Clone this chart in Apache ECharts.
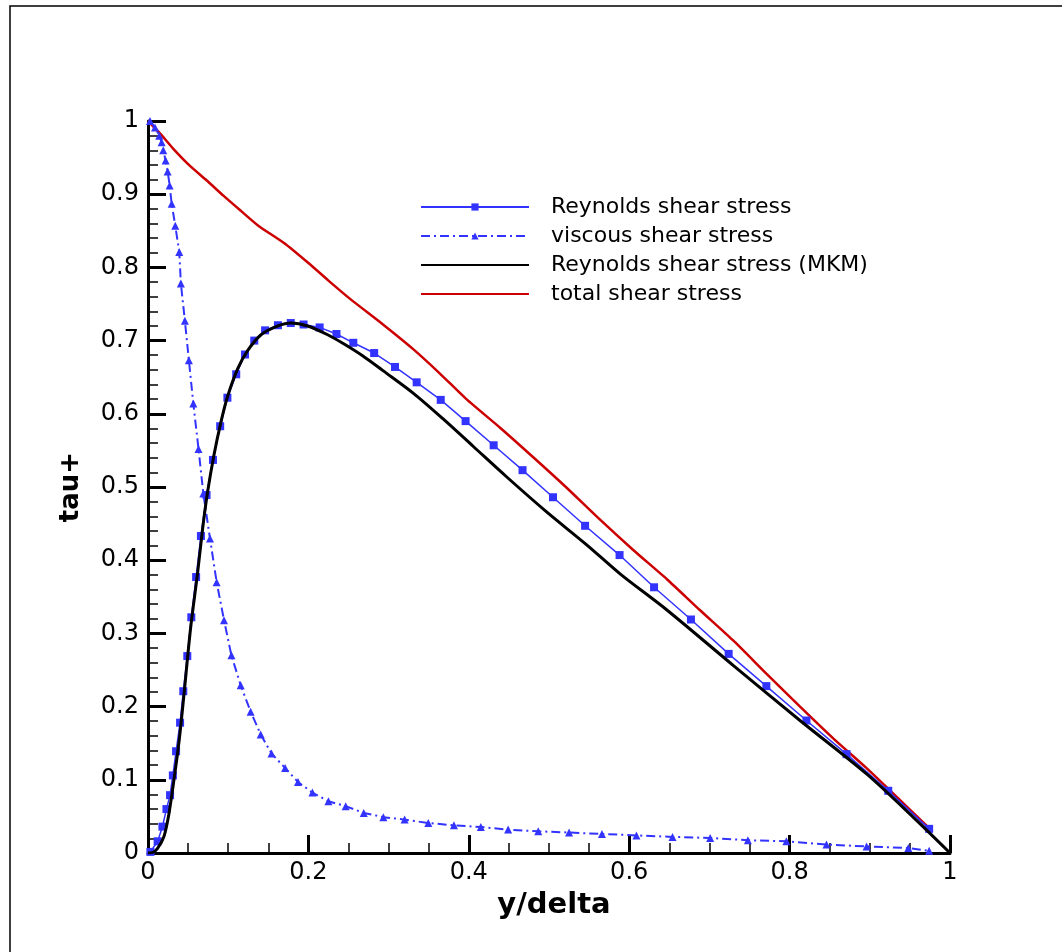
<!DOCTYPE html>
<html>
<head>
<meta charset="utf-8">
<script src="https://cdn.jsdelivr.net/npm/echarts@6/dist/echarts.min.js"></script>
<style>
  html, body { margin: 0; padding: 0; background: #fff; }
  #main { width: 1062px; height: 952px; }
</style>
</head>
<body>
<div id="main"></div>
<script>
  // Reynolds shear stress (square markers)
  var reyX = [0.003, 0.012, 0.018, 0.023, 0.0275, 0.031, 0.035, 0.040, 0.044, 0.049, 0.054, 0.060, 0.066, 0.073, 0.081,
              0.090, 0.099, 0.110, 0.121, 0.1325, 0.146, 0.162, 0.178, 0.194, 0.214, 0.235, 0.256, 0.282, 0.308, 0.335,
              0.365, 0.396, 0.431, 0.467, 0.505, 0.545, 0.588, 0.631, 0.677, 0.724, 0.771, 0.821, 0.871, 0.923, 0.974];
  var reyY = [0.0015, 0.016, 0.036, 0.060, 0.079, 0.106, 0.139, 0.178, 0.221, 0.269, 0.322, 0.377, 0.433, 0.489, 0.537,
              0.583, 0.622, 0.654, 0.681, 0.700, 0.714, 0.721, 0.724, 0.722, 0.718, 0.709, 0.697, 0.683, 0.664, 0.643,
              0.619, 0.590, 0.557, 0.523, 0.486, 0.447, 0.407, 0.363, 0.319, 0.272, 0.228, 0.181, 0.135, 0.085, 0.033];

  // viscous shear stress (triangle markers)
  var visX = [0.0025, 0.0087, 0.014, 0.017, 0.019, 0.022, 0.0245, 0.027, 0.0295, 0.034, 0.039, 0.041, 0.046, 0.051, 0.0565,
              0.063, 0.069, 0.0773, 0.0856, 0.0948, 0.104, 0.1156, 0.128, 0.1405, 0.154, 0.171, 0.187, 0.205, 0.225,
              0.2465, 0.269, 0.2935, 0.320, 0.3495, 0.3815, 0.415, 0.449, 0.4866, 0.525, 0.566, 0.609, 0.654, 0.701,
              0.748, 0.796, 0.846, 0.896, 0.948, 0.974];
  var visY = [1.0, 0.991, 0.980, 0.971, 0.960, 0.946, 0.931, 0.912, 0.887, 0.857, 0.821, 0.778, 0.727, 0.673, 0.614,
              0.552, 0.491, 0.4295, 0.370, 0.318, 0.270, 0.229, 0.193, 0.162, 0.136, 0.116, 0.097, 0.0825, 0.0706,
              0.064, 0.0547, 0.049, 0.0456, 0.041, 0.0378, 0.0355, 0.032, 0.0296, 0.028, 0.026, 0.024, 0.022, 0.0205,
              0.0174, 0.016, 0.0115, 0.009, 0.0068, 0.003];

  // Reynolds shear stress (MKM)
  var mkmX = [0, 0.0054, 0.0117, 0.020, 0.026, 0.0325, 0.039, 0.045, 0.053, 0.062, 0.068, 0.074, 0.0825, 0.091, 0.099,
              0.112, 0.124, 0.141, 0.162, 0.178, 0.199, 0.224, 0.245, 0.268, 0.293, 0.331, 0.368, 0.406, 0.447, 0.497,
              0.547, 0.589, 0.647, 0.730, 0.813, 0.896, 0.955, 1.0];
  var mkmY = [0, 0.0005, 0.006, 0.023, 0.053, 0.101, 0.155, 0.218, 0.306, 0.384, 0.442, 0.491, 0.545, 0.589, 0.623,
              0.662, 0.686, 0.708, 0.720, 0.724, 0.720, 0.708, 0.695, 0.679, 0.659, 0.628, 0.593, 0.555, 0.514, 0.466,
              0.421, 0.381, 0.332, 0.256, 0.181, 0.108, 0.048, 0];

  // total shear stress
  var totX = [0, 0.015, 0.0316, 0.052, 0.073, 0.094, 0.115, 0.1375, 0.17, 0.2, 0.225, 0.252, 0.293, 0.331, 0.364,
              0.397, 0.439, 0.480, 0.522, 0.564, 0.605, 0.647, 0.688, 0.730, 0.771, 0.813, 0.855, 0.896, 0.938, 0.974];
  var totY = [1.0, 0.983, 0.962, 0.939, 0.919, 0.898, 0.878, 0.857, 0.833, 0.806, 0.782, 0.757, 0.722, 0.688, 0.655,
              0.620, 0.581, 0.541, 0.499, 0.455, 0.414, 0.374, 0.332, 0.290, 0.245, 0.200, 0.156, 0.116, 0.072, 0.034];

  var names = ['Reynolds shear stress', 'viscous shear stress', 'Reynolds shear stress (MKM)', 'total shear stress'];

  function pairs(xs, ys) {
    return xs.map(function (x, i) { return [x, ys[i]]; });
  }

  var myChart = echarts.init(document.getElementById('main'));

  var axisCommon = {
    type: 'value',
    min: 0,
    max: 1,
    splitLine: { show: false },
    axisLine: { show: true, onZero: false, lineStyle: { color: '#000', width: 3 } },
    axisTick: { show: true, inside: true, length: 18, lineStyle: { color: '#000', width: 3 } },
    nameLocation: 'middle'
  };

  var option = {
    backgroundColor: '#fff',
    animation: false,
    graphic: [{
      type: 'rect',
      shape: { x: 10, y: 6, width: 1200, height: 1200 },
      style: { fill: 'none', stroke: '#000', lineWidth: 1.5 },
      silent: true
    }],
    grid: { left: 148, right: 112, top: 121, bottom: 99 },
    legend: {
      orient: 'vertical',
      left: 415,
      top: 191,
      itemWidth: 108,
      itemHeight: 9,
      itemGap: 7,
      textStyle: { color: '#000', fontFamily: 'DejaVu Sans', fontSize: 22, padding: [0, 0, 0, 17] },
      data: [
        { name: names[0] },
        { name: names[1] },
        { name: names[2], itemStyle: { opacity: 0 } },
        { name: names[3], itemStyle: { opacity: 0 } }
      ]
    },
    xAxis: Object.assign({}, axisCommon, {
      interval: 0.2,
      minorTick: { show: true, splitNumber: 4, length: 10, lineStyle: { color: '#000', width: 1.5 } },
      axisLabel: { color: '#000', fontFamily: 'DejaVu Sans', fontSize: 24, margin: 8 },
      name: 'y/delta',
      nameGap: 38,
      nameTextStyle: { color: '#000', fontFamily: 'DejaVu Sans', fontWeight: 'bold', fontSize: 29, padding: [0, 0, 0, 10] }
    }),
    yAxis: Object.assign({}, axisCommon, {
      interval: 0.1,
      minorTick: { show: true, splitNumber: 5, length: 10, lineStyle: { color: '#000', width: 1.5 } },
      axisLabel: { color: '#000', fontFamily: 'DejaVu Sans', fontSize: 24, margin: 9 },
      name: 'tau+',
      nameGap: 64,
      nameTextStyle: { color: '#000', fontFamily: 'DejaVu Sans', fontWeight: 'bold', fontSize: 26 }
    }),
    series: [
      {
        name: names[0],
        type: 'line',
        data: pairs(reyX, reyY),
        symbol: 'rect',
        symbolSize: 8,
        itemStyle: { color: '#3333ff' },
        lineStyle: { color: '#3333ff', width: 1.5 },
        z: 3
      },
      {
        name: names[1],
        type: 'line',
        data: pairs(visX, visY),
        symbol: 'triangle',
        symbolSize: 8,
        itemStyle: { color: '#3333ff' },
        lineStyle: { color: '#3333ff', width: 2, type: [9, 4, 2, 4] },
        z: 3
      },
      {
        name: names[2],
        type: 'line',
        data: pairs(mkmX, mkmY),
        symbol: 'none',
        smooth: 0.3,
        itemStyle: { color: '#000' },
        lineStyle: { color: '#000', width: 3 },
        z: 4
      },
      {
        name: names[3],
        type: 'line',
        data: pairs(totX, totY),
        symbol: 'none',
        smooth: 0.2,
        itemStyle: { color: '#cc0000' },
        lineStyle: { color: '#cc0000', width: 2.5 },
        z: 2
      }
    ]
  };

  myChart.setOption(option);
</script>
</body>
</html>
